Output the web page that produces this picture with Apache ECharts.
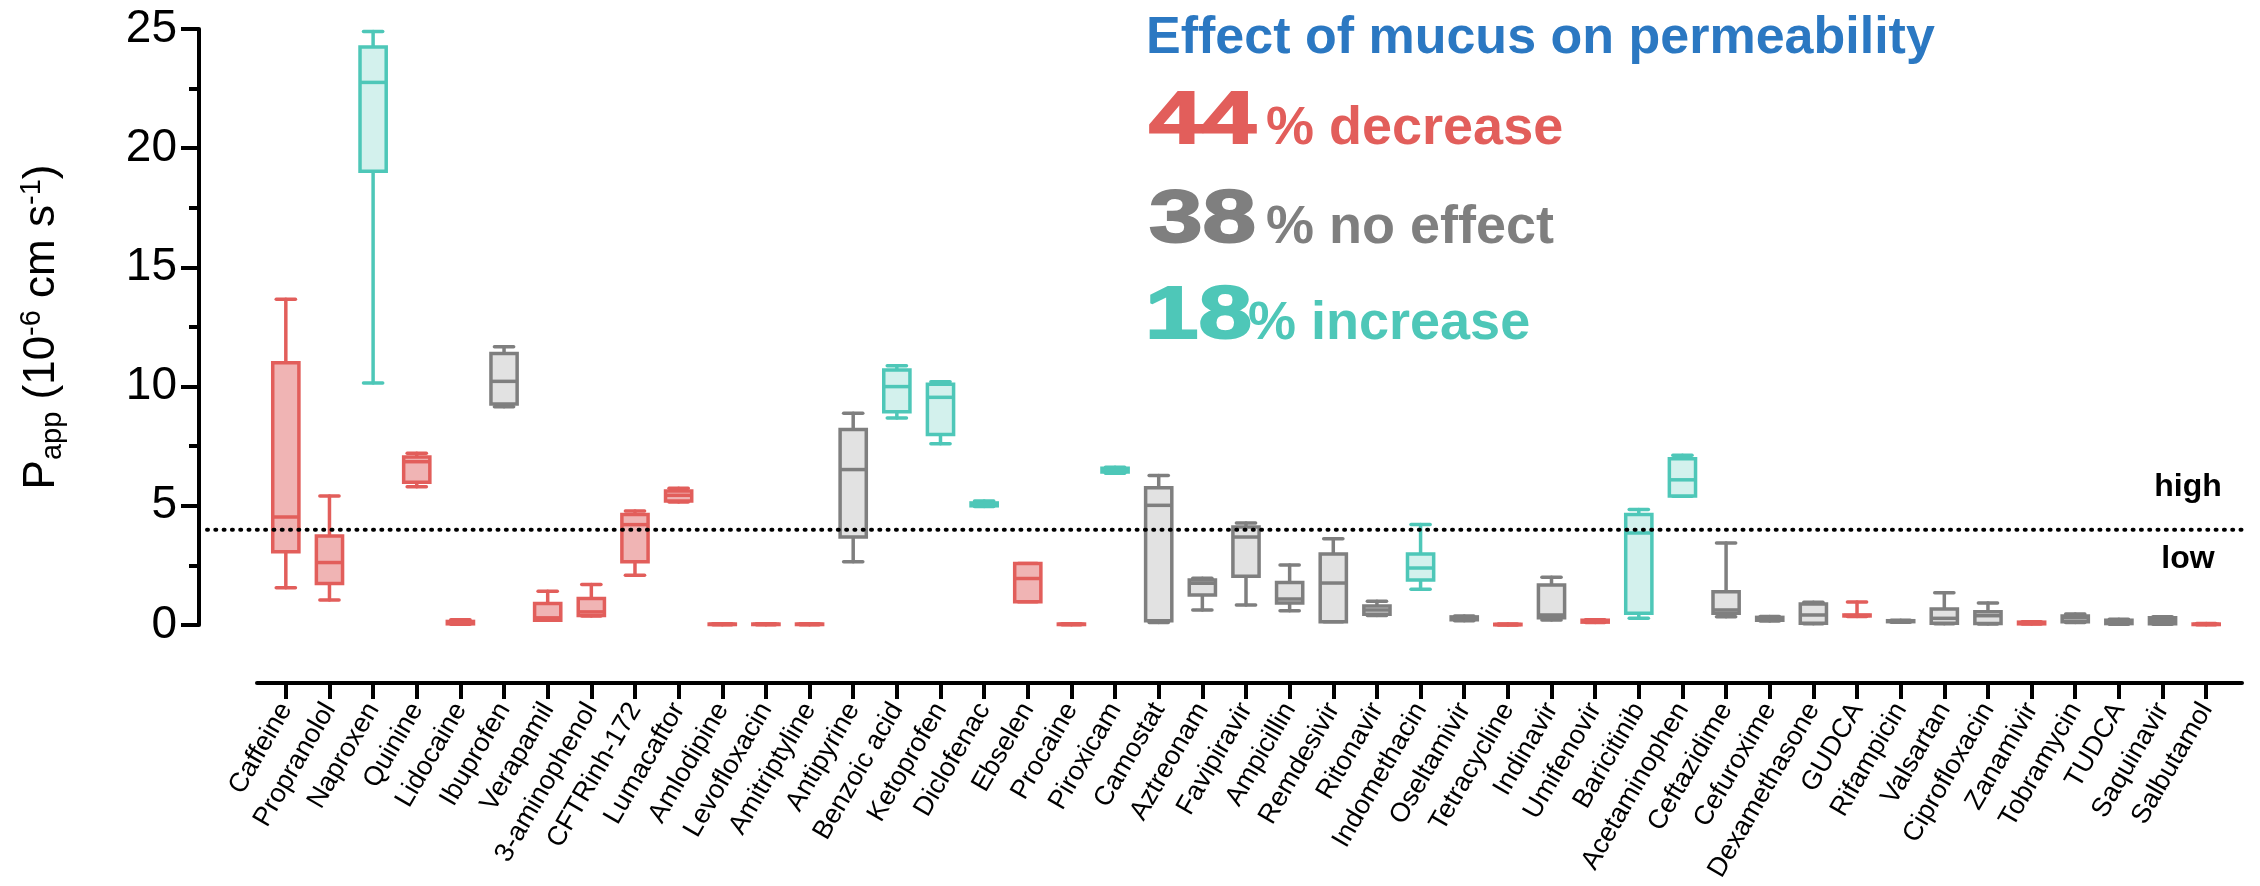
<!DOCTYPE html>
<html>
<head>
<meta charset="utf-8">
<script src="https://cdn.jsdelivr.net/npm/echarts/dist/echarts.min.js"></script>
<style>
  html, body { margin: 0; padding: 0; background: #fff; }
  #chart { width: 2260px; height: 886px; }
</style>
</head>
<body>
<div id="chart"></div>
<script>
// Apparent permeability per compound (box = Q1..Q3, line = median, whiskers = min..max)
const categories = ['Caffeine','Propranolol','Naproxen','Quinine','Lidocaine','Ibuprofen','Verapamil','3-aminophenol','CFTRinh-172','Lumacaftor','Amlodipine','Levofloxacin','Amitriptyline','Antipyrine','Benzoic acid','Ketoprofen','Diclofenac','Ebselen','Procaine','Piroxicam','Camostat','Aztreonam','Favipiravir','Ampicillin','Remdesivir','Ritonavir','Indomethacin','Oseltamivir','Tetracycline','Indinavir','Umifenovir','Baricitinib','Acetaminophen','Ceftazidime','Cefuroxime','Dexamethasone','GUDCA','Rifampicin','Valsartan','Ciprofloxacin','Zanamivir','Tobramycin','TUDCA','Saquinavir','Salbutamol'];

// effect of mucus: d = decrease, n = no effect, i = increase
const effect = ['d','d','i','d','d','n','d','d','d','d','d','d','d','n','i','i','i','d','d','i','n','n','n','n','n','n','i','n','d','n','d','i','i','n','n','n','d','n','n','n','d','n','n','n','d'];

const whiskerHigh = [13.66,5.41,24.9,7.2,0.22,11.67,1.42,1.7,4.78,5.74,0.05,0.05,0.05,8.88,10.87,10.2,5.2,2.58,0.05,6.62,6.27,1.96,4.28,2.52,3.62,1.0,4.22,0.38,0.04,2.0,0.22,4.85,7.12,3.44,0.36,0.95,0.97,0.2,1.35,0.92,0.14,0.46,0.24,0.35,0.06];
const q3 = [11.0,3.73,24.25,7.05,0.15,11.39,0.9,1.11,4.63,5.62,0.04,0.04,0.04,8.2,10.7,10.1,5.12,2.58,0.04,6.58,5.76,1.89,4.11,1.78,2.98,0.8,2.98,0.34,0.03,1.68,0.2,4.63,6.97,1.39,0.32,0.88,0.42,0.18,0.67,0.56,0.12,0.38,0.2,0.3,0.04];
const median = [4.53,2.62,22.76,6.85,0.1,10.22,0.3,0.55,4.21,5.44,0.03,0.03,0.03,6.52,10.0,9.55,5.05,1.95,0.03,6.5,5.02,1.75,3.69,1.09,1.76,0.63,2.39,0.28,0.02,0.42,0.16,3.86,6.09,0.63,0.25,0.42,0.4,0.16,0.28,0.39,0.08,0.3,0.14,0.2,0.03];
const q1 = [3.07,1.74,19.03,5.99,0.05,9.27,0.2,0.4,2.65,5.2,0.02,0.02,0.02,3.69,8.95,7.99,5.0,0.98,0.02,6.42,0.18,1.26,2.05,0.92,0.14,0.45,1.89,0.22,0.01,0.3,0.12,0.49,5.41,0.49,0.2,0.07,0.38,0.14,0.07,0.06,0.05,0.14,0.06,0.05,0.02];
const whiskerLow = [1.56,1.05,10.15,5.8,0.03,9.16,0.2,0.38,2.09,5.16,0.01,0.01,0.01,2.65,8.68,7.6,4.97,0.98,0.01,6.37,0.1,0.63,0.84,0.6,0.14,0.4,1.5,0.18,0.0,0.21,0.1,0.28,5.4,0.35,0.17,0.05,0.36,0.12,0.05,0.04,0.04,0.1,0.03,0.03,0.01];

const yTicks = [0, 5, 10, 15, 20, 25];
const threshold = 4; // high / low permeability boundary

const palette = {
  d: { stroke: '#E25E5B', fill: '#F0B4B4' },
  n: { stroke: '#7F7F7F', fill: '#E2E2E2' },
  i: { stroke: '#4EC7B8', fill: '#D3F1ED' }
};

const FONT = '"Liberation Sans", Arial, Helvetica, sans-serif';
const X_OFFSET = 58;   // the category axis sits below the zero line

const boxData = categories.map((c, k) => [k, whiskerLow[k], q1[k], median[k], q3[k], whiskerHigh[k], effect[k]]);

function renderBox(params, api) {
  const k = api.value(0);
  const lo = api.coord([k, api.value(1)]);
  const b1 = api.coord([k, api.value(2)]);
  const md = api.coord([k, api.value(3)]);
  const b3 = api.coord([k, api.value(4)]);
  const hi = api.coord([k, api.value(5)]);
  const band = api.size([1, 0])[0];
  const boxW = band * 0.6;
  const capW = band * 0.44;
  const x = lo[0];
  const pal = palette[boxData[params.dataIndex][6]];
  const ln = { stroke: pal.stroke, lineWidth: 3.5, lineCap: 'round' };
  return {
    type: 'group',
    children: [
      { type: 'line', shape: { x1: x, y1: b3[1], x2: x, y2: hi[1] }, style: ln },
      { type: 'line', shape: { x1: x, y1: b1[1], x2: x, y2: lo[1] }, style: ln },
      { type: 'line', shape: { x1: x - capW / 2, y1: hi[1], x2: x + capW / 2, y2: hi[1] }, style: ln },
      { type: 'line', shape: { x1: x - capW / 2, y1: lo[1], x2: x + capW / 2, y2: lo[1] }, style: ln },
      { type: 'rect', shape: { x: x - boxW / 2, y: b3[1], width: boxW, height: b1[1] - b3[1] },
        style: { fill: pal.fill, stroke: pal.stroke, lineWidth: 3.5 } },
      { type: 'line', shape: { x1: x - boxW / 2, y1: md[1], x2: x + boxW / 2, y2: md[1] },
        style: { stroke: pal.stroke, lineWidth: 3.5 } }
    ]
  };
}

// text placed by baseline: canvas "middle" sits ~0.3465em above the baseline
function textAt(x, baseline, text, size, color, extra) {
  return Object.assign({
    type: 'text', x: x, y: baseline - 0.3465 * size, silent: true,
    style: { text: text, x: 0, y: 0, fill: color, font: 'bold ' + size + 'px ' + FONT,
             verticalAlign: 'middle', align: 'left' }
  }, extra || {});
}

function bigDigits(x, baseline, text, color) {
  const el = textAt(x, baseline, text, 74, color, { scaleX: 1.3 });
  el.style.stroke = color;
  el.style.lineWidth = 2;
  return el;
}

const chart = echarts.init(document.getElementById('chart'), null, { renderer: 'canvas' });

const gridBox = { top: 29, bottom: 261 };

chart.setOption({
  animation: false,
  backgroundColor: '#ffffff',
  grid: [
    Object.assign({ left: 264, right: 32 }, gridBox),
    Object.assign({ left: 257, right: 18 }, gridBox),
    Object.assign({ left: 207, right: 17 }, gridBox)
  ],
  xAxis: [
    {
      // compound names and their ticks
      gridIndex: 0, type: 'category', data: categories, offset: X_OFFSET, position: 'bottom',
      axisLine: { show: true, onZero: false, lineStyle: { color: 'rgba(0,0,0,0)', width: 0 } },
      axisTick: { show: true, interval: 0, alignWithLabel: true, length: 16,
                  lineStyle: { color: '#000', width: 4 } },
      axisLabel: { interval: 0, rotate: 60, margin: 22, fontSize: 27, color: '#000', fontFamily: FONT },
      splitLine: { show: false }
    },
    {
      // long baseline under the compounds
      gridIndex: 1, type: 'value', min: 0, max: 1, offset: X_OFFSET, position: 'bottom',
      axisLine: { show: true, onZero: false, lineStyle: { color: '#000', width: 4 } },
      axisTick: { show: false }, axisLabel: { show: false }, splitLine: { show: false }
    },
    {
      gridIndex: 2, type: 'value', min: 0, max: 1, show: false
    }
  ],
  yAxis: [
    {
      gridIndex: 0, type: 'value', min: yTicks[0], max: yTicks[yTicks.length - 1], interval: 5, offset: 65,
      axisLine: { show: true, onZero: false, lineStyle: { color: '#000', width: 4 } },
      axisTick: { show: true, length: 18, lineStyle: { color: '#000', width: 4 } },
      minorTick: { show: true, splitNumber: 2, length: 10, lineStyle: { color: '#000', width: 4 } },
      splitLine: { show: false },
      axisLabel: { fontSize: 46, color: '#000', margin: 22, fontFamily: FONT },
      name: '{n|P}{sub|app}{n| (10}{sup|-6}{n| cm s}{sup|-1}{n|)}',
      nameLocation: 'middle', nameRotate: 90, nameGap: 132,
      nameTextStyle: {
        color: '#000', fontFamily: FONT,
        rich: {
          n: { fontSize: 44, lineHeight: 50, fontFamily: FONT, color: '#000' },
          sub: { fontSize: 29, lineHeight: 29, verticalAlign: 'bottom', fontFamily: FONT, color: '#000' },
          sup: { fontSize: 29, lineHeight: 29, verticalAlign: 'top', fontFamily: FONT, color: '#000' }
        }
      }
    },
    { gridIndex: 1, type: 'value', min: 0, max: 25, show: false },
    { gridIndex: 2, type: 'value', min: 0, max: 25, show: false }
  ],
  series: [
    {
      type: 'line', xAxisIndex: 2, yAxisIndex: 2, silent: true, symbol: 'none',
      data: [[0, threshold], [1, threshold]],
      lineStyle: { color: '#000', width: 4, type: [1, 7.3], cap: 'round' }
    },
    {
      type: 'custom', xAxisIndex: 0, yAxisIndex: 0, silent: true,
      renderItem: renderBox,
      encode: { x: 0, y: [1, 2, 3, 4, 5] },
      data: boxData.map(r => r.slice(0, 6)),
      z: 3
    }
  ],
  graphic: [
    textAt(1146, 57, 'Effect of mucus on permeability', 52, '#2B78C2'),
    bigDigits(1149, 148, '44', palette.d.stroke),
    textAt(1266, 148, '% decrease', 54, palette.d.stroke),
    bigDigits(1149, 247, '38', palette.n.stroke),
    textAt(1266, 247, '% no effect', 54, palette.n.stroke),
    bigDigits(1145, 343, '18', palette.i.stroke),
    textAt(1248, 343, '% increase', 54, palette.i.stroke),
    textAt(2188, 498, 'high', 32, '#000'),
    textAt(2188, 570, 'low', 32, '#000')
  ].map((el, k) => {
    if (k >= 7) el.style.align = 'center';
    return el;
  })
});
</script>
</body>
</html>
